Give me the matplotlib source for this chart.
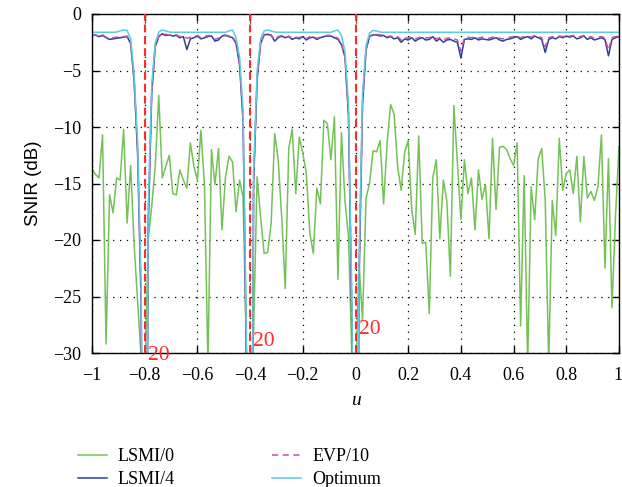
import numpy as np
import matplotlib
matplotlib.use("Agg")
import matplotlib.pyplot as plt
from matplotlib.transforms import ScaledTranslation

# ---------------- data ----------------
u = np.linspace(-1, 1, 151)

lsmi0 = [
    -13.7, -14.2, -14.5, -10.7, -29.2, -16.0, -17.6, -14.5, -14.7, -10.2,
    -18.5, -13.4, -20.5, -25.5, -30.5, -33.0, -19.9, -17.0, -13.5, -7.2,
    -14.5, -13.5, -12.5, -15.9, -16.0, -13.8, -14.7, -15.4, -11.4, -13.5,
    -14.7, -10.3, -15.1, -31.0, -12.0, -15.1, -11.9, -19.1, -14.4, -12.6,
    -13.1, -17.5, -14.7, -16.2, -30.5, -33.0, -28.0, -14.4, -18.0, -21.2,
    -21.1, -18.5, -10.6, -12.9, -18.0, -24.3, -11.9, -10.2, -15.9, -10.9,
    -12.3, -14.1, -19.4, -21.2, -15.4, -16.8, -9.4, -9.7, -12.9, -9.1,
    -23.5, -10.5, -16.5, -19.7, -30.5, -33.0, -22.0, -27.1, -16.3, -15.0,
    -12.1, -12.2, -11.2, -16.8, -11.4, -8.0, -8.9, -13.5, -15.6, -12.2,
    -11.2, -17.3, -19.5, -10.8, -20.3, -20.2, -26.5, -14.5, -12.9, -19.9,
    -14.7, -16.6, -23.2, -8.1, -13.1, -18.2, -12.9, -15.9, -14.5, -19.1,
    -13.8, -16.4, -15.1, -19.9, -11.0, -17.3, -11.8, -11.7, -12.0, -12.8,
    -13.4, -11.4, -27.6, -14.3, -31.0, -15.3, -18.2, -12.8, -11.9, -16.5,
    -31.0, -16.5, -19.6, -11.0, -15.6, -14.1, -13.8, -15.9, -12.6, -18.4,
    -12.6, -16.3, -15.7, -16.5, -15.3, -10.7, -22.5, -12.8, -26.0, -17.9,
    -11.7,
]

lsmi4 = [
    -1.9, -1.85, -2.0, -1.9, -2.1, -2.25, -2.2, -2.15, -2.1, -2.05,
    -2.0, -2.6, -6.0, -12.5, -26.0, -80.0, -19.0, -7.0, -2.9, -2.0,
    -1.75, -1.9, -1.85, -1.95, -1.9, -2.1, -2.0, -3.15, -2.2, -2.1,
    -1.95, -2.2, -2.1, -2.0, -1.95, -2.4, -2.3, -1.95, -1.9, -2.0,
    -2.1, -2.6, -4.5, -9.5, -32.0, -80.0, -15.0, -5.8, -2.6, -1.85,
    -1.8, -1.9, -2.4, -2.1, -1.95, -2.1, -2.0, -2.25, -2.1, -2.2,
    -2.0, -2.3, -2.1, -2.05, -2.25, -2.1, -2.0, -1.95, -1.95, -2.1,
    -2.25, -2.7, -3.8, -9.0, -28.0, -80.0, -24.0, -8.0, -3.2, -2.0,
    -1.85, -1.85, -1.95, -1.9, -2.1, -2.0, -2.2, -2.1, -2.5, -2.2,
    -2.3, -2.1, -2.4, -2.2, -2.1, -2.3, -2.25, -2.0, -2.4, -2.2,
    -2.5, -2.3, -2.25, -2.4, -2.5, -3.9, -2.25, -2.2, -2.25, -2.1,
    -2.3, -2.2, -2.25, -2.3, -2.2, -2.1, -2.3, -2.4, -2.25, -2.2,
    -2.1, -2.0, -2.25, -2.1, -2.0, -2.2, -1.95, -2.1, -2.25, -3.4,
    -2.25, -2.1, -2.2, -2.0, -2.1, -1.95, -2.05, -1.95, -2.2, -2.1,
    -1.95, -2.25, -2.1, -2.3, -2.2, -2.1, -2.25, -3.7, -2.25, -2.1,
    -2.0,
]

evp10 = [
    -1.85, -1.9, -1.95, -1.85, -2.05, -2.15, -2.1, -2.05, -2.0, -2.0,
    -1.95, -2.5, -5.8, -12.0, -25.0, -80.0, -18.0, -6.8, -2.8, -1.95,
    -1.7, -1.8, -1.85, -1.9, -1.85, -2.0, -1.95, -2.15, -2.05, -2.0,
    -1.9, -2.1, -2.0, -1.9, -1.95, -2.25, -2.15, -1.9, -1.85, -1.95,
    -2.0, -2.5, -4.3, -9.2, -31.0, -80.0, -14.5, -5.6, -2.5, -1.8,
    -1.75, -1.85, -2.3, -2.0, -1.9, -2.05, -1.95, -2.15, -2.05, -2.1,
    -1.95, -2.2, -2.0, -2.0, -2.15, -2.05, -1.95, -1.9, -1.9, -2.0,
    -2.15, -2.6, -3.7, -8.8, -27.0, -80.0, -23.0, -7.8, -3.1, -1.95,
    -1.8, -1.8, -1.85, -1.85, -2.0, -1.95, -2.05, -2.0, -2.3, -2.05,
    -2.15, -2.0, -2.2, -2.1, -2.0, -2.1, -2.1, -1.95, -2.2, -2.1,
    -2.3, -2.15, -2.1, -2.2, -2.3, -3.3, -2.1, -2.05, -2.1, -2.0,
    -2.15, -2.05, -2.1, -2.15, -2.05, -2.0, -2.15, -2.2, -2.1, -2.05,
    -2.0, -1.95, -2.1, -2.0, -1.95, -2.05, -1.9, -2.0, -2.1, -2.9,
    -2.1, -2.0, -2.05, -1.95, -2.0, -1.9, -1.95, -1.9, -2.05, -2.0,
    -1.9, -2.1, -2.0, -2.15, -2.05, -2.0, -2.1, -3.2, -2.1, -2.0,
    -1.95,
]

optimum = [
    -1.62, -1.62, -1.62, -1.62, -1.62, -1.62, -1.62, -1.6, -1.5, -1.42,
    -1.45, -2.2, -5.3, -11.5, -24.0, -80.0, -17.0, -6.2, -2.6, -1.6,
    -1.42, -1.5, -1.6, -1.62, -1.62, -1.62, -1.62, -1.62, -1.62, -1.62,
    -1.62, -1.62, -1.62, -1.62, -1.62, -1.62, -1.62, -1.62, -1.62, -1.5,
    -1.42, -2.1, -3.8, -8.5, -30.0, -80.0, -14.0, -5.0, -2.2, -1.5,
    -1.42, -1.5, -1.6, -1.62, -1.62, -1.62, -1.62, -1.62, -1.62, -1.62,
    -1.62, -1.62, -1.62, -1.62, -1.62, -1.62, -1.62, -1.62, -1.62, -1.5,
    -1.42, -1.9, -3.3, -8.0, -26.0, -80.0, -22.0, -7.0, -2.8, -1.7,
    -1.45, -1.5, -1.6, -1.62, -1.62, -1.62, -1.62, -1.62, -1.62, -1.62,
    -1.62, -1.62, -1.62, -1.62, -1.62, -1.62, -1.62, -1.62, -1.62, -1.62,
    -1.62, -1.62, -1.62, -1.62, -1.62, -1.62, -1.62, -1.62, -1.62, -1.62,
    -1.62, -1.62, -1.62, -1.62, -1.62, -1.62, -1.62, -1.62, -1.62, -1.62,
    -1.62, -1.62, -1.62, -1.62, -1.62, -1.62, -1.62, -1.62, -1.62, -1.62,
    -1.62, -1.62, -1.62, -1.62, -1.62, -1.62, -1.62, -1.62, -1.62, -1.62,
    -1.62, -1.62, -1.62, -1.62, -1.62, -1.62, -1.62, -1.62, -1.62, -1.62,
    -1.62,
]

interferer_u = [-0.8, -0.4, 0.0]
interferer_labels = ["20", "20", "20"]
interferer_label_y = [-30.6, -29.4, -28.3]

series_labels = ["LSMI/0", "LSMI/4", "EVP/10", "Optimum"]
xticks = [-1, -0.8, -0.6, -0.4, -0.2, 0, 0.2, 0.4, 0.6, 0.8, 1]
yticks = [0, -5, -10, -15, -20, -25, -30]

# ---------------- style ----------------
plt.rcParams["font.family"] = ["Liberation Serif", "DejaVu Serif"]
plt.rcParams["axes.unicode_minus"] = True

fig = plt.figure(figsize=(6.22, 4.87), dpi=100)
ax = fig.add_axes([92 / 622, 1 - 353 / 487, (619 - 92) / 622, (353 - 14) / 487])

c_green = "#74c257"
c_blue = "#2d3f9c"
c_mag = "#c850a4"
c_cyan = "#5ccbdc"

l1, = ax.plot(u, lsmi0, color=c_green, lw=1.1, label=series_labels[0])
l2, = ax.plot(u, lsmi4, color=c_blue, lw=1.1, label=series_labels[1])
l3, = ax.plot(u, evp10, color=c_mag, lw=1.1, ls=(0, (4, 3)), label=series_labels[2])
l4, = ax.plot(u, optimum, color=c_cyan, lw=1.1, label=series_labels[3])

for xv, lab, ly in zip(interferer_u, interferer_labels, interferer_label_y):
    ax.axvline(xv, color="#ff2b2b", lw=1.5, ls=(0, (3.8, 1.9)), zorder=5)
    ax.text(xv + 0.012, ly, lab, color="#ff2b2b", fontsize=15.5,
            ha="left", va="baseline", clip_on=False, zorder=6)

ax.set_xlim(-1, 1)
ax.set_ylim(-30, 0)
ax.set_xticks(xticks)
ax.set_yticks(yticks)
ax.set_xticklabels([("\u2212" if t < 0 else "") + (f"{abs(t):g}") for t in xticks])
ax.set_yticklabels([("\u2212" if t < 0 else "") + (f"{abs(t):g}") for t in yticks])
ax.tick_params(direction="in", top=True, right=True, length=5, width=1,
               labelsize=13)
ax.tick_params(axis="x", pad=10)
ax.tick_params(axis="y", pad=8)
ax.grid(True, color="black", lw=0.9, ls=(0, (1, 4.5)))
for s in ax.spines.values():
    s.set_linewidth(1.0)

# keep the last x tick label ("1") inside the canvas
last = ax.get_xticklabels()[-1]
last.set_horizontalalignment("right")
last.set_transform(last.get_transform() + ScaledTranslation(2.5 / 72, 0, fig.dpi_scale_trans))

ax.set_xlabel("u", fontstyle="italic", fontsize=14, labelpad=6)
ax.set_ylabel("SNIR (dB)", family=["Liberation Sans", "DejaVu Sans"], fontsize=13.5, labelpad=8)

fig.legend([l1, l2, l3, l4], series_labels, ncol=2, loc="upper left",
           bbox_to_anchor=(78 / 622, 1 - 448 / 487), frameon=False,
           fontsize=13, handlelength=1.6, handletextpad=0.6,
           columnspacing=5.4, labelspacing=0.35, borderpad=0, borderaxespad=0)

fig.savefig("out.png", dpi=100)
